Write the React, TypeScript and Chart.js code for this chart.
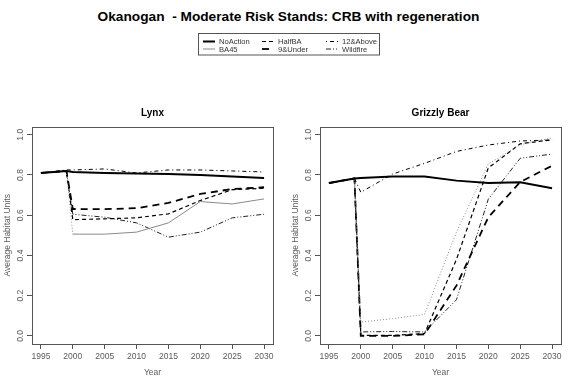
import React, { useEffect, useRef } from "react";
import { Chart, registerables } from "chart.js";

Chart.register(...registerables);

// ---------- data ----------
const years = [1995, 1999, 2000, 2005, 2010, 2015, 2020, 2025, 2030];
const xTickValues = [1995, 2000, 2005, 2010, 2015, 2020, 2025, 2030];
const yTickValues = [0, 0.2, 0.4, 0.6, 0.8, 1.0];
const seriesNames = ["NoAction", "BA45", "HalfBA", "9&Under", "12&Above", "Wildfire"];

const lynxNoAction = [0.81, 0.82, 0.815, 0.81, 0.808, 0.805, 0.8, 0.792, 0.785];
const lynxBA45 = [0.81, 0.82, 0.506, 0.506, 0.516, 0.562, 0.668, 0.656, 0.681];
const lynxHalfBA = [0.81, 0.82, 0.578, 0.582, 0.587, 0.607, 0.673, 0.727, 0.734];
const lynx9Under = [0.81, 0.82, 0.631, 0.63, 0.635, 0.661, 0.706, 0.73, 0.739];
const lynx12Above = [0.81, 0.825, 0.825, 0.83, 0.81, 0.825, 0.825, 0.82, 0.815];
const lynxWildfire = [0.81, 0.82, 0.605, 0.59, 0.562, 0.491, 0.516, 0.587, 0.605];

const bearNoAction = [0.76, 0.783, 0.785, 0.792, 0.792, 0.772, 0.76, 0.764, 0.734];
const bearBA45 = [0.76, 0.783, 0.069, 0.086, 0.107, 0.516, 0.855, 0.95, 0.985];
const bearHalfBA = [0.76, 0.783, 0.003, 0.003, 0.012, 0.38, 0.835, 0.955, 0.975];
const bear9Under = [0.76, 0.783, 0.0, 0.0, 0.008, 0.25, 0.59, 0.765, 0.846];
const bear12Above = [0.76, 0.783, 0.714, 0.805, 0.858, 0.917, 0.949, 0.969, 0.974];
const bearWildfire = [0.76, 0.783, 0.02, 0.022, 0.02, 0.18, 0.68, 0.883, 0.904];

// ---------- styles ----------
const FONT = "'Liberation Sans', Arial, Helvetica, sans-serif";
const AXIS_COLOR = "#555";
const TEXT_GRAY = "#5a5a5a";

type Style = { color: string; width: number; dash: number[] };
const baseStyles: Record<string, Style> = {
  NoAction: { color: "#000", width: 2, dash: [] },
  BA45: { color: "#8a8a8a", width: 1, dash: [] },
  HalfBA: { color: "#000", width: 1.2, dash: [4, 3] },
  "9&Under": { color: "#000", width: 1.8, dash: [7, 5] },
  "12&Above": { color: "#000", width: 1, dash: [1, 3, 4, 3] },
  Wildfire: { color: "#222", width: 1, dash: [5, 2, 1, 2, 1, 2] },
};

const boxPlugin = {
  id: "rbox",
  afterDatasetsDraw(chart: any) {
    const { ctx, chartArea } = chart;
    const l = Math.round(chartArea.left) + 0.5;
    const t = Math.round(chartArea.top) + 0.5;
    const r = Math.round(chartArea.right) + 0.5;
    const b = Math.round(chartArea.bottom) + 0.5;
    ctx.save();
    ctx.strokeStyle = AXIS_COLOR;
    ctx.lineWidth = 1;
    ctx.setLineDash([]);
    ctx.strokeRect(l, t, r - l, b - t);
    ctx.restore();
  },
};

type PanelProps = {
  title: string;
  left: number;
  series: number[][];
  dashOverride?: Record<string, number[]>;
  dropDotted?: string[];
};

function Panel({ title, left, series, dashOverride = {}, dropDotted = [] }: PanelProps) {
  const ref = useRef<HTMLCanvasElement | null>(null);
  useEffect(() => {
    if (!ref.current) return;
    const datasets = seriesNames.map((name, i) => {
      const st = baseStyles[name];
      const dash = dashOverride[name] || st.dash;
      const ds: any = {
        label: name,
        data: years.map((yr, j) => ({ x: yr, y: series[i][j] })),
        borderColor: st.color,
        borderWidth: st.width,
        borderDash: dash,
        pointRadius: 0,
        fill: false,
        tension: 0,
      };
      if (dropDotted.includes(name)) {
        ds.segment = {
          borderDash: (ctx: any) => (ctx.p0DataIndex === 1 ? [1, 2] : undefined),
        };
      }
      return ds;
    });
    const tickFont = { family: FONT, size: 8.5 };
    const chart = new Chart(ref.current, {
      type: "line",
      data: { datasets },
      plugins: [boxPlugin],
      options: {
        animation: false,
        responsive: false,
        layout: { padding: { left: 0, right: 15, top: 0, bottom: 0 } },
        plugins: { legend: { display: false }, tooltip: { enabled: false }, title: { display: false } },
        scales: {
          x: {
            type: "linear",
            position: "bottom",
            min: 1993.6,
            max: 2031.4,
            afterBuildTicks: (s: any) => {
              s.ticks = xTickValues.map((v) => ({ value: v }));
            },
            afterFit: (s: any) => {
              s.height = 44;
            },
            ticks: {
              autoSkip: false,
              maxRotation: 0,
              minRotation: 0,
              padding: 2.6,
              color: TEXT_GRAY,
              font: tickFont,
              callback: (v: any) => String(v),
            },
            grid: { display: true, drawOnChartArea: false, drawTicks: true, tickLength: 5, color: AXIS_COLOR },
            border: { display: false },
            title: {
              display: true,
              text: "Year",
              color: TEXT_GRAY,
              font: tickFont,
              padding: { top: 0, bottom: 10.6 },
            },
          },
          xTop: {
            type: "linear",
            position: "top",
            min: 1993.6,
            max: 2031.4,
            afterFit: (s: any) => {
              s.height = 26.7;
            },
            ticks: { display: false },
            grid: { display: false },
            border: { display: false },
            title: {
              display: true,
              text: title,
              color: "#000",
              font: { family: FONT, size: 10, weight: "bold" },
              padding: { top: 7, bottom: 0 },
            },
          },
          y: {
            type: "linear",
            position: "left",
            min: -0.04,
            max: 1.04,
            afterBuildTicks: (s: any) => {
              s.ticks = yTickValues.map((v) => ({ value: v }));
            },
            afterFit: (s: any) => {
              s.width = 32;
            },
            ticks: {
              autoSkip: false,
              minRotation: 90,
              maxRotation: 90,
              crossAlign: "center",
              padding: 0,
              color: TEXT_GRAY,
              font: tickFont,
              callback: (v: any) => Number(v).toFixed(1),
            },
            grid: { display: true, drawOnChartArea: false, drawTicks: true, tickLength: 5, color: AXIS_COLOR },
            border: { display: false },
            title: {
              display: true,
              text: "Average Habitat Units",
              color: TEXT_GRAY,
              font: tickFont,
              padding: { top: 2.9, bottom: 0 },
            },
          },
        },
      } as any,
    });
    return () => chart.destroy();
  }, []);
  return (
    <canvas
      ref={ref}
      width={288}
      height={288}
      style={{ position: "absolute", left, top: 100, width: 288, height: 288 }}
    />
  );
}

function Legend() {
  const colX = [203, 262, 326];
  const rowY = [41.5, 49];
  const items = seriesNames.map((name, i) => ({
    name,
    col: Math.floor(i / 2),
    row: i % 2,
    st: baseStyles[name],
  }));
  return (
    <svg
      width={577}
      height={70}
      style={{ position: "absolute", left: 0, top: 0, willChange: "transform" }}
    >
      <rect x={198.5} y={33.5} width={181} height={21.5} fill="#fff" stroke="#555" strokeWidth={1} />
      {items.map((it) => {
        const x = colX[it.col];
        const y = rowY[it.row];
        return (
          <g key={it.name}>
            <line
              x1={x}
              x2={x + 12}
              y1={y}
              y2={y}
              stroke={it.st.color}
              strokeWidth={it.st.width}
              strokeDasharray={it.st.dash.length ? it.st.dash.join(" ") : undefined}
            />
            <text
              x={x + 16}
              y={y}
              dominantBaseline="central"
              fontFamily={FONT}
              fontSize={7.6}
              fill="#333"
            >
              {it.name}
            </text>
          </g>
        );
      })}
    </svg>
  );
}

export default function App() {
  return (
    <div
      style={{
        position: "absolute",
        left: 0,
        top: 0,
        width: 577,
        height: 388,
        background: "#fff",
        overflow: "hidden",
      }}
    >
      <div
        style={{
          position: "absolute",
          left: 0,
          top: 9,
          width: 577,
          textAlign: "center",
          fontFamily: FONT,
          fontWeight: "bold",
          fontSize: 13.7,
          lineHeight: "16px",
          whiteSpace: "pre",
          color: "#000",
        }}
      >
        {"Okanogan  - Moderate Risk Stands: CRB with regeneration"}
      </div>
      <Legend />
      <Panel
        title="Lynx"
        left={0}
        series={[lynxNoAction, lynxBA45, lynxHalfBA, lynx9Under, lynx12Above, lynxWildfire]}
        dropDotted={["BA45"]}
      />
      <Panel
        title="Grizzly Bear"
        left={288}
        series={[bearNoAction, bearBA45, bearHalfBA, bear9Under, bear12Above, bearWildfire]}
        dashOverride={{ BA45: [1, 2] }}
      />
    </div>
  );
}
